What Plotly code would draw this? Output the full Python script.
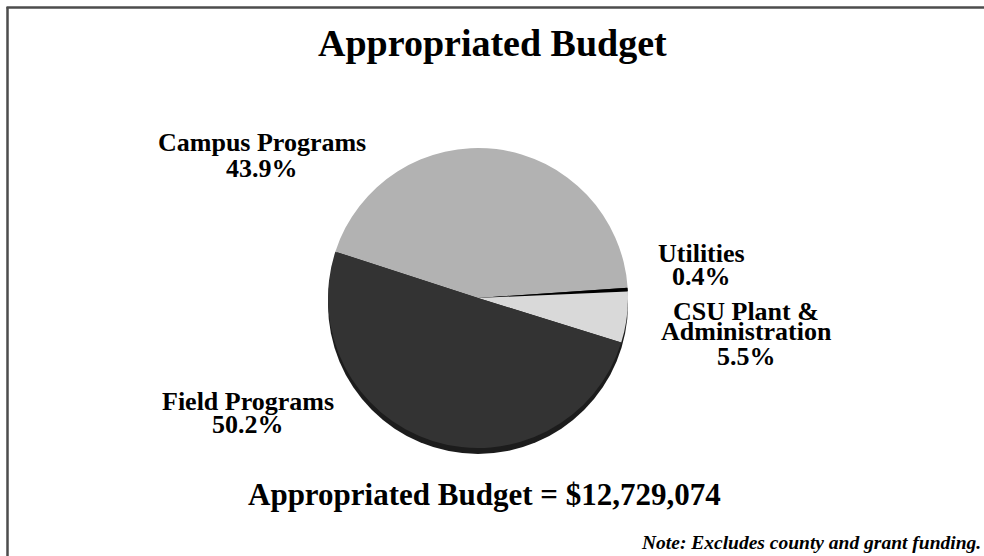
import plotly.graph_objects as go

# Budget split (percent of appropriated budget)
categories = ["Campus Programs", "Utilities", "CSU Plant & Administration", "Field Programs"]
shares = [43.9, 0.4, 5.5, 50.2]
label_lines = [["Campus Programs"], ["Utilities"], ["CSU Plant &", "Administration"], ["Field Programs"]]
slice_colors = ["#b2b2b2", "#000000", "#d9d9d9", "#333333"]

title_text = "Appropriated Budget"
total_text = "Appropriated Budget = $12,729,074"
note_text = "Note: Excludes county and grant funding."

W, H = 984, 556
FONT = "Liberation Serif, Times New Roman, serif"


def px(x):
    return x / W


def py(y):
    return 1 - y / H


# pie placement in pixels
cx, cy, d = 478, 298, 300

fig = go.Figure()

# dark "3D" rim under the pie
fig.add_trace(go.Pie(
    values=[1], marker=dict(colors=["#1c1c1c"], line=dict(width=0)),
    textinfo="none", hoverinfo="skip", showlegend=False, sort=False,
    domain=dict(x=[px(cx - d / 2), px(cx + d / 2)], y=[py(cy + 6 + d / 2), py(cy + 6 - d / 2)]),
))

fig.add_trace(go.Pie(
    labels=categories, values=shares,
    marker=dict(colors=slice_colors, line=dict(width=0)),
    sort=False, direction="clockwise", rotation=-72,
    textinfo="none", hovertemplate="%{label}: %{value}%<extra></extra>",
    showlegend=False,
    domain=dict(x=[px(cx - d / 2), px(cx + d / 2)], y=[py(cy + d / 2), py(cy - d / 2)]),
))

# label positions: (center x, [line middles y]) in pixels
label_pos = [
    (262, [143, 168]),
    (701, [253, 276]),
    (746, [311, 331, 356]),
    (248, [401, 424]),
]

annotations = []
for lines, share, (lx, ys) in zip(label_lines, shares, label_pos):
    for text, ly in zip(lines + [f"{share}%"], ys):
        annotations.append(dict(
            x=px(lx), y=py(ly), xref="paper", yref="paper", text=text,
            showarrow=False, xanchor="center", yanchor="middle",
            font=dict(family=FONT, size=26, color="black", weight="bold"),
        ))

annotations.append(dict(
    x=px(492), y=py(43), xref="paper", yref="paper", text=title_text,
    showarrow=False, xanchor="center", yanchor="middle",
    font=dict(family=FONT, size=38, color="black", weight="bold"),
))
annotations.append(dict(
    x=px(484), y=py(494), xref="paper", yref="paper", text=total_text,
    showarrow=False, xanchor="center", yanchor="middle",
    font=dict(family=FONT, size=31, color="black", weight="bold"),
))
annotations.append(dict(
    x=px(983), y=py(542), xref="paper", yref="paper", text=note_text,
    showarrow=False, xanchor="right", yanchor="middle",
    font=dict(family=FONT, size=19.5, color="black", weight="bold", style="italic"),
))

fig.update_layout(
    width=W, height=H,
    margin=dict(l=0, r=0, t=0, b=0),
    paper_bgcolor="white", plot_bgcolor="white",
    annotations=annotations,
    shapes=[
        dict(type="line", xref="paper", yref="paper", x0=px(7.5), x1=px(7.5), y0=0, y1=py(7),
             line=dict(color="#4d4d4d", width=2.5)),
        dict(type="line", xref="paper", yref="paper", x0=px(6.5), x1=1, y0=py(7.5), y1=py(7.5),
             line=dict(color="#4d4d4d", width=2.5)),
    ],
)

fig.write_html("out.html", config={"displayModeBar": False},
               post_script="document.body.style.margin='0';")
